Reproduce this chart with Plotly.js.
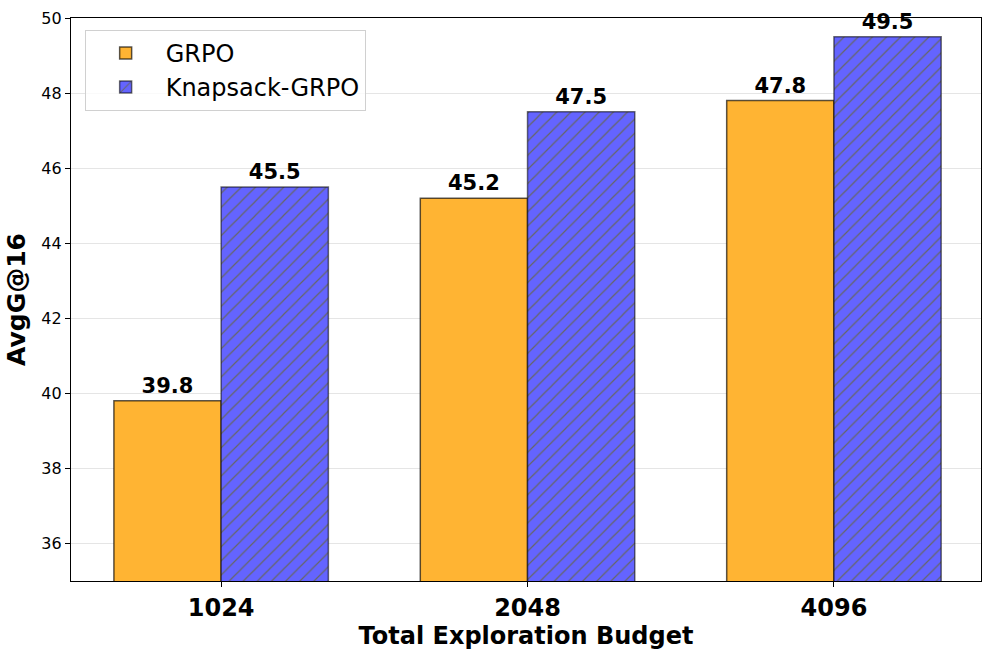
<!DOCTYPE html>
<html><head><meta charset="utf-8">
<script src="https://cdn.plot.ly/plotly-3.0.1.min.js"></script>
<style>body{margin:0;background:#fff}#c{width:996px;height:659px}</style>
</head><body><div id="c"></div>
<script>
const categories = ['1024', '2048', '4096'];
const grpo = [39.8, 45.2, 47.8];
const knapsack = [45.5, 47.5, 49.5];
const yTicks = [36, 38, 40, 42, 44, 46, 48, 50];

const labelFont = {family: 'DejaVu Sans', size: 21, color: '#000', weight: 'bold'};
const traces = [
  {type: 'bar', name: 'GRPO', x: categories, y: grpo,
   text: grpo.map(v => '<b>' + v.toFixed(1) + '</b>'), textposition: 'outside', textfont: labelFont,
   cliponaxis: false,
   marker: {color: '#FFB433', line: {color: 'rgba(0,0,0,0.65)', width: 1.5}}},
  {type: 'bar', name: 'Knapsack-GRPO', x: categories, y: knapsack,
   text: knapsack.map(v => '<b>' + v.toFixed(1) + '</b>'), textposition: 'outside', textfont: labelFont,
   cliponaxis: false,
   marker: {color: '#6464FF', line: {color: 'rgba(0,0,0,0.55)', width: 1.5},
            pattern: {shape: '/', fgcolor: '#666666', bgcolor: '#6464FF', size: 10, solidity: 0.12}}}
];
const layout = {
  width: 996, height: 659,
  margin: {l: 71, r: 15, t: 18, b: 78},
  paper_bgcolor: '#fff', plot_bgcolor: '#fff',
  font: {family: 'DejaVu Sans', color: '#000'},
  barmode: 'group', bargap: 0.3, bargroupgap: 0,
  showlegend: true,
  legend: {x: 0.015, y: 0.979, xanchor: 'left', yanchor: 'top',
           bgcolor: 'rgba(255,255,255,0.8)', bordercolor: '#d0d0d0', borderwidth: 1,
           font: {size: 24, family: 'DejaVu Sans'}, itemwidth: 70, tracegroupgap: 8},
  xaxis: {type: 'category', range: [-0.49, 2.48],
          showline: true, mirror: true, linecolor: '#000', linewidth: 1.2,
          ticks: 'outside', ticklen: 5, tickcolor: '#000',
          tickfont: {size: 24, family: 'DejaVu Sans', weight: 'bold'},
          title: {text: '<b>Total Exploration Budget</b>', font: {size: 24, family: 'DejaVu Sans'}, standoff: 6}},
  yaxis: {range: [35, 50], tickvals: yTicks,
          showline: true, mirror: true, linecolor: '#000', linewidth: 1.2,
          ticks: 'outside', ticklen: 5, tickcolor: '#000',
          showgrid: true, gridcolor: 'rgba(0,0,0,0.1)', zeroline: false,
          tickfont: {size: 16, family: 'DejaVu Sans'},
          title: {text: '<b>AvgG@16</b>', font: {size: 25, family: 'DejaVu Sans'}, standoff: 8}}
};
Plotly.newPlot('c', traces, layout, {displayModeBar: false});
</script></body></html>
